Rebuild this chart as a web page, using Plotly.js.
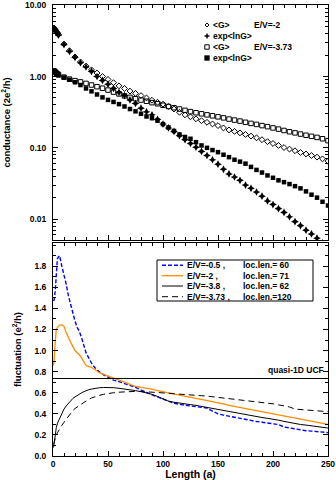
<!DOCTYPE html>
<html><head><meta charset="utf-8">
<script src="https://cdn.plot.ly/plotly-3.0.1.min.js"></script>
<style>html,body{margin:0;padding:0;background:#fff}#chart{width:336px;height:480px}</style>
</head><body><div id="chart"></div>
<script>
// ---- top panel: conductance vs length ----
const lengths = [1,2,3,4,5,10,15,20,25,30,35,40,45,50,55,60,65,70,75,80,85,90,95,100,105,110,115,120,125,130,135,140,145,150,155,160,165,170,175,180,185,190,195,200,205,210,215,220,225,230,235,240,245,250];
const meanG_m2 = [4.8,4.55,4.3,4.1,3.9,2.85,2.3,1.88,1.6,1.4,1.24,1.12,1.0,0.91,0.82,0.74,0.68,0.625,0.58,0.54,0.5,0.465,0.435,0.41,0.38,0.35,0.315,0.29,0.272,0.255,0.24,0.228,0.216,0.205,0.19,0.178,0.17,0.162,0.154,0.146,0.138,0.13,0.122,0.115,0.108,0.101,0.096,0.091,0.086,0.082,0.078,0.074,0.07,0.065];
const expLnG_m2 = [4.7,4.45,4.2,4.0,3.8,2.8,2.25,1.85,1.56,1.36,1.18,1.0,0.88,0.78,0.68,0.6,0.54,0.47,0.42,0.36,0.32,0.29,0.25,0.215,0.19,0.17,0.148,0.13,0.115,0.102,0.089,0.078,0.068,0.059,0.05,0.043,0.039,0.035,0.03,0.027,0.024,0.021,0.018,0.016,0.014,0.0124,0.0108,0.0092,0.0081,0.007,0.0062,0.0054,0.0047,0.0041];
const meanG_m373 = [1.2,1.16,1.12,1.09,1.06,0.98,0.92,0.875,0.84,0.8,0.76,0.72,0.685,0.645,0.605,0.57,0.535,0.51,0.488,0.468,0.45,0.43,0.415,0.395,0.38,0.365,0.35,0.335,0.322,0.31,0.3,0.29,0.281,0.272,0.263,0.253,0.245,0.237,0.228,0.22,0.213,0.205,0.198,0.19,0.183,0.175,0.168,0.162,0.156,0.15,0.145,0.14,0.134,0.126];
const expLnG_m373 = [1.18,1.14,1.1,1.07,1.04,0.97,0.9,0.83,0.76,0.68,0.62,0.56,0.51,0.47,0.44,0.41,0.38,0.35,0.325,0.3,0.275,0.26,0.24,0.215,0.193,0.172,0.154,0.142,0.134,0.12,0.108,0.1,0.093,0.087,0.08,0.074,0.068,0.064,0.06,0.054,0.049,0.045,0.041,0.038,0.035,0.033,0.031,0.029,0.027,0.0245,0.022,0.02,0.0175,0.0155];
const condTickVals = [0.01,0.1,1,10];
const condTickText = ['0.01','0.10','1.00','10.00'];
const condMinorVals = [0.006,0.007,0.008,0.009,0.02,0.03,0.04,0.05,0.06,0.07,0.08,0.09,0.2,0.3,0.4,0.5,0.6,0.7,0.8,0.9,2,3,4,5,6,7,8,9];

// ---- bottom panel: fluctuation vs length ----
const lenFine = [0.5,1,2,3,4,5,6,8,10,12,14,16,18,20,22,24,26,28,30,32,35,38,42,46,50,55,60,65,70,75,80,85,90,95,100,105,110,115,120,125,130,135,140,145,150,155,160,165,170,175,180,185,190,195,200,205,210,215,220,225,230,235,240,245,250];
const fluct_m05 = [1.47,1.48,1.56,1.78,1.87,1.89,1.90,1.80,1.72,1.63,1.52,1.43,1.34,1.28,1.22,1.18,1.12,1.05,0.98,0.94,0.88,0.84,0.80,0.77,0.745,0.72,0.705,0.69,0.67,0.65,0.625,0.6,0.58,0.56,0.54,0.52,0.50,0.49,0.485,0.475,0.468,0.462,0.455,0.425,0.40,0.388,0.377,0.366,0.356,0.345,0.336,0.327,0.32,0.315,0.31,0.298,0.275,0.265,0.257,0.248,0.24,0.236,0.232,0.228,0.222];
const fluct_m2 = [0.86,0.9,1.08,1.2,1.22,1.23,1.24,1.245,1.23,1.17,1.12,1.08,1.04,1.0,0.98,0.96,0.93,0.89,0.86,0.85,0.84,0.82,0.79,0.775,0.76,0.745,0.72,0.70,0.68,0.66,0.65,0.645,0.635,0.62,0.61,0.60,0.59,0.58,0.57,0.56,0.55,0.54,0.53,0.515,0.505,0.495,0.48,0.47,0.46,0.45,0.44,0.43,0.42,0.41,0.40,0.39,0.378,0.367,0.356,0.345,0.336,0.327,0.318,0.309,0.30];
const fluct_m38 = [0.08,0.13,0.21,0.27,0.31,0.335,0.36,0.41,0.445,0.475,0.50,0.525,0.545,0.56,0.575,0.588,0.60,0.61,0.62,0.627,0.635,0.642,0.647,0.65,0.652,0.648,0.642,0.637,0.63,0.62,0.61,0.60,0.585,0.565,0.54,0.52,0.51,0.50,0.495,0.487,0.48,0.47,0.46,0.452,0.445,0.435,0.425,0.415,0.405,0.395,0.385,0.375,0.365,0.357,0.35,0.34,0.328,0.316,0.306,0.299,0.293,0.287,0.28,0.272,0.265];
const fluct_m373 = [0.11,0.13,0.17,0.2,0.22,0.24,0.255,0.29,0.32,0.35,0.38,0.41,0.43,0.45,0.465,0.48,0.495,0.51,0.525,0.535,0.55,0.563,0.575,0.585,0.593,0.6,0.605,0.61,0.612,0.613,0.612,0.61,0.607,0.603,0.6,0.595,0.59,0.585,0.58,0.578,0.575,0.572,0.568,0.562,0.557,0.55,0.545,0.54,0.535,0.53,0.525,0.515,0.507,0.5,0.495,0.485,0.478,0.465,0.445,0.44,0.437,0.434,0.43,0.425,0.42];
const fluctTickVals = [0,0.2,0.4,0.6,0.8,1.0,1.2,1.4,1.6,1.8];
const ucfLevel = 0.735;
const fluctLabels = ['E/V=-0.5 ,','E/V=-2 ,','E/V=-3.8 ,','E/V=-3.73 ,'];
const locLenLabels = ['loc.len.= 60','loc.len.= 71','loc.len.= 62','loc.len.=120'];

const FAM = 'Liberation Sans, Arial, sans-serif';
const BOLD = {family:FAM, size:8.5, color:'#000', weight:'bold'};
const NORM = {family:FAM, size:8.5, color:'#000'};

const traces = [
  {x:lengths, y:meanG_m2, name:'<G> E/V=-2', type:'scatter', mode:'markers', xaxis:'x', yaxis:'y',
   marker:{symbol:'diamond-open', size:4.5, color:'#000', line:{width:1}}},
  {x:lengths, y:expLnG_m2, name:'exp<lnG> E/V=-2', type:'scatter', mode:'markers', xaxis:'x', yaxis:'y',
   marker:{symbol:'star-diamond', size:5.5, color:'#000'}},
  {x:lengths, y:meanG_m373, name:'<G> E/V=-3.73', type:'scatter', mode:'markers', xaxis:'x', yaxis:'y',
   marker:{symbol:'square-open', size:4.5, color:'#000', line:{width:1}}},
  {x:lengths, y:expLnG_m373, name:'exp<lnG> E/V=-3.73', type:'scatter', mode:'markers', xaxis:'x', yaxis:'y',
   marker:{symbol:'square', size:4.5, color:'#000'}},
  {x:lenFine, y:fluct_m05, name:fluctLabels[0]+' '+locLenLabels[0], type:'scatter', mode:'lines', xaxis:'x2', yaxis:'y2',
   line:{color:'#0000ff', width:1.4, dash:'4px,2px'}},
  {x:lenFine, y:fluct_m2, name:fluctLabels[1]+' '+locLenLabels[1], type:'scatter', mode:'lines', xaxis:'x2', yaxis:'y2',
   line:{color:'#ff8c00', width:1.3}},
  {x:lenFine, y:fluct_m38, name:fluctLabels[2]+' '+locLenLabels[2], type:'scatter', mode:'lines', xaxis:'x2', yaxis:'y2',
   line:{color:'#000', width:1}},
  {x:lenFine, y:fluct_m373, name:fluctLabels[3]+' '+locLenLabels[3], type:'scatter', mode:'lines', xaxis:'x2', yaxis:'y2',
   line:{color:'#000', width:1, dash:'6px,4px'}}
];

// paper coordinate helpers (plot area: x 53..328 px, y 5..456 px)
const PX = p => (p-53)/275;
const PY = p => (456-p)/451;

const annotations = [];
const shapes = [];
// top legend
const topRows = [25,36,47,58];
const topNames = ['&lt;G&gt;','exp&lt;lnG&gt;','&lt;G&gt;','exp&lt;lnG&gt;'];
const topRight = ['E/V=-2','','E/V=-3.73',''];
topRows.forEach((r,i)=>{
  annotations.push({xref:'paper',yref:'paper',x:PX(211),y:PY(r),xanchor:'left',yanchor:'middle',showarrow:false,text:topNames[i],font:BOLD});
  if(topRight[i]) annotations.push({xref:'paper',yref:'paper',x:PX(252),y:PY(r),xanchor:'left',yanchor:'middle',showarrow:false,text:topRight[i],font:BOLD});
});
const sym = (i, s) => Object.assign({xref:'paper',yref:'paper',xsizemode:'pixel',ysizemode:'pixel',xanchor:PX(207),yanchor:PY(topRows[i])}, s);
shapes.push(sym(0,{type:'path',path:'M -2 0 L 0 2 L 2 0 L 0 -2 Z',line:{color:'#000',width:1},fillcolor:'rgba(0,0,0,0)'}));
shapes.push(sym(1,{type:'path',path:'M -2.6 0 L -0.8 0.8 L 0 2.6 L 0.8 0.8 L 2.6 0 L 0.8 -0.8 L 0 -2.6 L -0.8 -0.8 Z',line:{color:'#000',width:0.5},fillcolor:'#000'}));
shapes.push(sym(2,{type:'rect',x0:-2.2,x1:2.2,y0:-2.2,y1:2.2,line:{color:'#000',width:1},fillcolor:'rgba(0,0,0,0)'}));
shapes.push(sym(3,{type:'rect',x0:-2.4,x1:2.4,y0:-2.4,y1:2.4,line:{color:'#000',width:0.5},fillcolor:'#000'}));

// bottom legend
shapes.push({type:'rect',xref:'paper',yref:'paper',x0:PX(157),x1:PX(313),y0:PY(301),y1:PY(260),line:{color:'#000',width:1},fillcolor:'#fff',layer:'above'});
const botRows = [265.3,275.7,286,296.7];
const botStyles = [{color:'#0000ff',width:1.4,dash:'4px,2px'},{color:'#ff8c00',width:1.3},{color:'#000',width:1},{color:'#000',width:1,dash:'6px,4px'}];
botRows.forEach((r,i)=>{
  shapes.push({type:'line',xref:'paper',yref:'paper',x0:PX(162),x1:PX(183),y0:PY(r),y1:PY(r),line:botStyles[i],layer:'above'});
  annotations.push({xref:'paper',yref:'paper',x:PX(185),y:PY(r),xanchor:'left',yanchor:'middle',showarrow:false,text:fluctLabels[i],font:NORM});
  annotations.push({xref:'paper',yref:'paper',x:PX(241),y:PY(r),xanchor:'left',yanchor:'middle',showarrow:false,text:locLenLabels[i],font:NORM});
});

// quasi-1D UCF reference line
shapes.push({type:'line',xref:'x2 domain',yref:'y2',x0:0,x1:1,y0:ucfLevel,y1:ucfLevel,line:{color:'#000',width:1}});
annotations.push({xref:'x2',yref:'y2',x:248,y:ucfLevel,xanchor:'right',yanchor:'bottom',yshift:1,showarrow:false,text:'quasi-1D UCF',font:BOLD});

const axCommon = {showline:true, linecolor:'#000', linewidth:1, mirror:'ticks', ticks:'inside', ticklen:5, tickcolor:'#000', tickwidth:1, showgrid:false, zeroline:false, tickfont:BOLD};

const layout = {
  width:336, height:480,
  margin:{l:53, r:8, t:5, b:24},
  paper_bgcolor:'#fff', plot_bgcolor:'#fff',
  showlegend:false,
  font:BOLD,
  xaxis:Object.assign({}, axCommon, {domain:[0,1], anchor:'y', range:[0,250], dtick:50, showticklabels:false,
     minor:{ticks:'inside', ticklen:3, dtick:10, tickcolor:'#000'}}),
  yaxis:Object.assign({}, axCommon, {domain:[0.479,1], anchor:'x', type:'log', range:[Math.log10(0.0051),1.003],
     tickvals:condTickVals, ticktext:condTickText, ticklabelstandoff:4,
     minor:{ticks:'inside', ticklen:3, tickvals:condMinorVals, tickcolor:'#000'},
     title:{text:'conductance (2e<sup>2</sup>/h)', font:{family:FAM,size:9.5,weight:'bold',color:'#000'}, standoff:13}}),
  xaxis2:Object.assign({}, axCommon, {domain:[0,1], anchor:'y2', range:[0,250], dtick:50,
     minor:{ticks:'inside', ticklen:3, dtick:10, tickcolor:'#000'},
     title:{text:'Length (a)', font:{family:FAM,size:10.5,weight:'bold',color:'#000'}, standoff:4}}),
  yaxis2:Object.assign({}, axCommon, {domain:[0,0.4723], anchor:'x2', range:[0,2.02], tickvals:fluctTickVals, tickformat:'.1f', ticklabelstandoff:4,
     minor:{ticks:'inside', ticklen:3, dtick:0.1, tickcolor:'#000'},
     title:{text:'fluctuation (e<sup>2</sup>/h)', font:{family:FAM,size:9.5,weight:'bold',color:'#000'}, standoff:11}}),
  annotations:annotations,
  shapes:shapes
};

Plotly.newPlot('chart', traces, layout, {staticPlot:true, displayModeBar:false});
</script>
</body></html>
